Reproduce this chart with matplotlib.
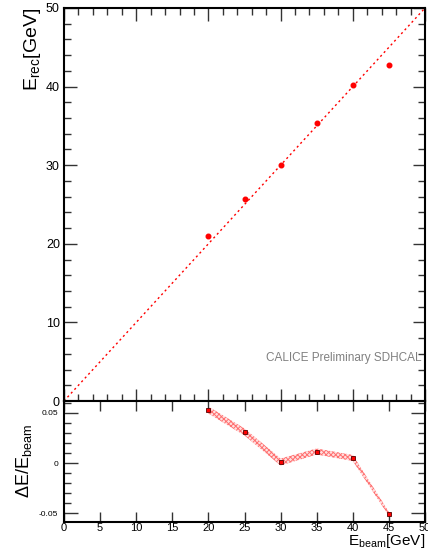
import matplotlib
matplotlib.use("Agg")
import matplotlib.pyplot as plt
from matplotlib.ticker import MultipleLocator, NullLocator
import numpy as np

plt.rcParams["font.family"] = ["Liberation Sans", "DejaVu Sans"]
plt.rcParams["mathtext.fontset"] = "custom"
plt.rcParams["mathtext.rm"] = "Liberation Sans"
plt.rcParams["mathtext.it"] = "Liberation Sans"
plt.rcParams["hatch.linewidth"] = 0.7

# Data
e_beam = [20, 25, 30, 35, 40, 45]
e_rec = [21.05, 25.75, 30.0, 35.35, 40.15, 42.7]
rel_dev = [0.053, 0.031, 0.001, 0.0115, 0.005, -0.051]
rel_err = [0.0035, 0.0035, 0.0035, 0.003, 0.003, 0.002]
diag = [0, 50]

fig = plt.figure(figsize=(4.28, 5.48), dpi=100)
ax1 = fig.add_axes([64 / 428, 1 - 401 / 548, 361 / 428, 393 / 548])
ax2 = fig.add_axes([64 / 428, 1 - 522 / 548, 361 / 428, 121 / 548])

# upper panel
ax1.plot(diag, diag, color="red", lw=1.0, ls=(0, (1.5, 2.2)))
ax1.plot(e_beam, e_rec, "o", color="red", ms=3.3, mec="red")
ax1.set_xlim(0, 50)
ax1.set_ylim(0, 50)
ax1.xaxis.set_major_locator(MultipleLocator(10))
ax1.xaxis.set_minor_locator(MultipleLocator(2))
ax1.yaxis.set_major_locator(MultipleLocator(10))
ax1.yaxis.set_minor_locator(MultipleLocator(2))
ax1.tick_params(which="both", direction="in", top=True, right=True,
                labelbottom=False, width=1.0, color="#333333")
ax1.tick_params(which="major", length=9, labelsize=9, pad=3)
ax1.tick_params(which="minor", length=5)
ax1.set_ylabel(r"E$_{\rm rec}$[GeV]", fontsize=14, loc="top", labelpad=2)
ax1.text(0.99, 0.11, "CALICE Preliminary SDHCAL", transform=ax1.transAxes,
         ha="right", va="center", fontsize=8.5, color="#808080")

# lower panel
lo = np.array(rel_dev) - np.array(rel_err)
hi = np.array(rel_dev) + np.array(rel_err)
ax2.fill_between(e_beam, lo, hi, facecolor="#ffe0e0", edgecolor="#ff7070",
                 hatch="xxxxxxx", lw=0)
ax2.plot(e_beam, rel_dev, "s", color="red", ms=3, mec="#550000", mew=0.6)
ax2.set_xlim(0, 50)
ax2.set_ylim(-0.059, 0.062)
ax2.xaxis.set_major_locator(MultipleLocator(5))
ax2.xaxis.set_minor_locator(NullLocator())
ax2.yaxis.set_major_locator(MultipleLocator(0.05))
ax2.yaxis.set_minor_locator(MultipleLocator(0.01))
ax2.yaxis.set_major_formatter(plt.FuncFormatter(lambda v, p: "0" if abs(v) < 1e-9 else f"{v:g}"))
ax2.tick_params(which="both", direction="in", top=True, right=True,
                width=1.0, color="#333333")
ax2.tick_params(axis="x", which="major", length=7, labelsize=8, pad=1)
ax2.tick_params(axis="y", which="major", length=10, labelsize=6, pad=4)
ax2.tick_params(which="minor", length=5)
ax2.set_ylabel(r"$\Delta$E/E$_{\rm beam}$", fontsize=13, labelpad=4)
ax2.set_xlabel(r"E$_{\rm beam}$[GeV]", fontsize=11, loc="right", labelpad=-1)

for ax in (ax1, ax2):
    for s in ax.spines.values():
        s.set_linewidth(1.5)

fig.savefig("out.png", dpi=100)
